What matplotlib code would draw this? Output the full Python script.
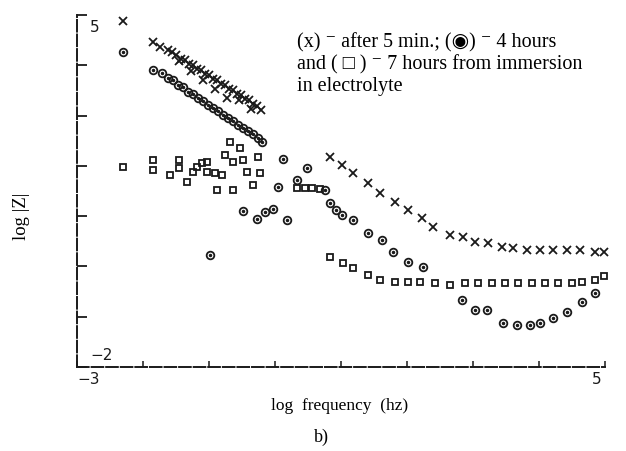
import matplotlib
matplotlib.use("Agg")
import matplotlib.pyplot as plt

# --- data (log frequency, log |Z|) ---
# (x) after 5 min
x5min_f = [-2.30, -1.85, -1.74, -1.62, -1.56, -1.50, -1.42, -1.36, -1.30, -1.24, -1.18,
           -1.12, -1.06, -1.00, -0.94, -0.88, -0.82, -0.76, -0.70, -0.64, -0.58,
           -0.52, -0.45, -0.39, -0.33, -0.27, -0.21,
           -1.46, -1.27, -1.09, -0.91, -0.73, -0.55, -0.36,
           0.83, 1.02, 1.18, 1.41, 1.59, 1.82, 2.02, 2.23, 2.39, 2.65, 2.85,
           3.03, 3.23, 3.44, 3.61, 3.82, 4.02, 4.21, 4.42, 4.62, 4.85, 4.98]
x5min_z = [4.88, 4.46, 4.36, 4.30, 4.26, 4.20, 4.13, 4.11, 4.03, 4.01, 3.93,
           3.91, 3.83, 3.81, 3.73, 3.71, 3.63, 3.61, 3.53, 3.51, 3.43,
           3.41, 3.33, 3.31, 3.23, 3.19, 3.11,
           4.08, 3.88, 3.70, 3.52, 3.34, 3.30, 3.14,
           2.18, 2.02, 1.86, 1.66, 1.46, 1.28, 1.12, 0.96, 0.79, 0.63, 0.59,
           0.49, 0.47, 0.39, 0.37, 0.33, 0.33, 0.33, 0.33, 0.33, 0.29, 0.29]

# (circle) 4 hours
h4_f = [-2.30, -1.85, -1.71, -1.62, -1.55, -1.47, -1.39, -1.32, -1.24, -1.17, -1.09,
        -1.02, -0.94, -0.86, -0.79, -0.71, -0.64, -0.56, -0.48, -0.41, -0.33,
        -0.26, -0.20,
        0.12, 0.48, -0.48, -0.27, -0.15, -0.03, 0.18, -0.98, 0.05, 0.33,
        0.76, 0.83, 0.92, 1.02, 1.18, 1.41, 1.62, 1.79, 2.02, 2.24,
        2.83, 3.03, 3.21, 3.45, 3.67, 3.86, 4.02, 4.21, 4.42, 4.65, 4.85]
h4_z = [4.26, 3.91, 3.85, 3.75, 3.71, 3.61, 3.57, 3.47, 3.43, 3.35, 3.29,
        3.21, 3.15, 3.09, 3.01, 2.95, 2.89, 2.81, 2.75, 2.69, 2.63,
        2.55, 2.48,
        2.14, 1.96, 1.10, 0.94, 1.08, 1.14, 0.92, 0.23, 1.58, 1.72,
        1.52, 1.26, 1.12, 1.02, 0.92, 0.67, 0.53, 0.29, 0.09, -0.01,
        -0.67, -0.86, -0.86, -1.12, -1.16, -1.16, -1.12, -1.02, -0.90, -0.71, -0.53]

# (square) 7 hours
h7_f = [-2.30, -1.85, -1.85, -1.59, -1.45, -1.45, -1.33, -1.24, -1.18, -1.11, -1.03,
        -1.03, -0.91, -0.80, -0.88, -0.64, -0.68, -0.53, -0.76, -0.64, -0.48,
        -0.26, -0.42, -0.23, -0.33,
        0.33, 0.45, 0.56, 0.68,
        0.83, 1.03, 1.18, 1.41, 1.59, 1.82, 2.02, 2.20, 2.42, 2.65, 2.88,
        3.08, 3.29, 3.48, 3.68, 3.89, 4.09, 4.29, 4.50, 4.65, 4.85, 4.98]
h7_z = [1.98, 2.12, 1.92, 1.82, 2.12, 1.96, 1.68, 1.88, 1.98, 2.06, 2.08,
        1.88, 1.86, 1.82, 1.52, 1.52, 2.48, 2.36, 2.22, 2.08, 2.12,
        2.18, 1.88, 1.86, 1.62,
        1.56, 1.56, 1.56, 1.54,
        0.19, 0.07, -0.03, -0.17, -0.27, -0.31, -0.31, -0.31, -0.33, -0.37, -0.33,
        -0.33, -0.33, -0.33, -0.33, -0.33, -0.33, -0.33, -0.33, -0.31, -0.27, -0.19]

ink = "#1a1a1a"
serif = ["Liberation Serif", "DejaVu Serif"]

fig = plt.figure(figsize=(6.26, 4.51), dpi=100)
ax = fig.add_axes([0.123, 0.1863, 0.8435, 0.7805])

ax.plot(x5min_f, x5min_z, ls="none", marker="x", ms=6, mew=1.3, color=ink, clip_on=False)
ax.plot(h4_f, h4_z, ls="none", marker="o", ms=5.5, mew=1.3, mfc="none", mec=ink, clip_on=False)
ax.plot(h4_f, h4_z, ls="none", marker=".", ms=3, color=ink, clip_on=False)
ax.plot(h7_f, h7_z, ls="none", marker="s", ms=5, mew=1.3, mfc="none", mec=ink, clip_on=False)

ax.set_xlim(-3, 5)
ax.set_ylim(-2, 5)
ax.set_xticks(range(-3, 6))
ax.set_yticks(range(-2, 6))
ax.set_xticklabels([])
ax.set_yticklabels([])
ax.tick_params(axis="y", direction="in", length=7, width=1.3, color=ink)
ax.tick_params(axis="x", direction="in", length=4, width=1.1, color=ink)
for side in ["top", "right"]:
    ax.spines[side].set_visible(False)
for side in ["left", "bottom"]:
    ax.spines[side].set_color(ink)
    ax.spines[side].set_linewidth(1.4)
    ax.spines[side].set_linestyle((0, (6, 1.5)))

# scanned axis numbers
ax.text(0.025, 0.985, "5", transform=ax.transAxes, fontsize=11, color=ink, va="top")
ax.text(0.025, 0.012, "\u22122", transform=ax.transAxes, fontsize=11, color=ink, va="bottom")
ax.text(0.0, -0.015, "\u22123", transform=ax.transAxes, fontsize=11, color=ink, va="top")
ax.text(0.985, -0.015, "5", transform=ax.transAxes, fontsize=11, color=ink, va="top", ha="center")

ax.text(0.417, 0.95,
        "(x) \u207b after 5 min.; (\u25c9) \u207b 4 hours\n"
        "and ( \u25a1 ) \u207b 7 hours from immersion\n"
        "in electrolyte",
        transform=ax.transAxes, fontsize=14.5, va="top", linespacing=1.18,
        family=["Liberation Serif", "DejaVu Sans"])

fig.text(0.035, 0.52, "log |Z|", rotation=90, fontsize=13.5, family=serif, ha="center", va="center")
fig.text(0.543, 0.10, "log  frequency  (hz)", fontsize=12.5, family=serif, ha="center", va="center")
fig.text(0.514, 0.031, "b)", fontsize=13, family=serif, ha="center", va="center")

fig.savefig("out.png", dpi=100)
